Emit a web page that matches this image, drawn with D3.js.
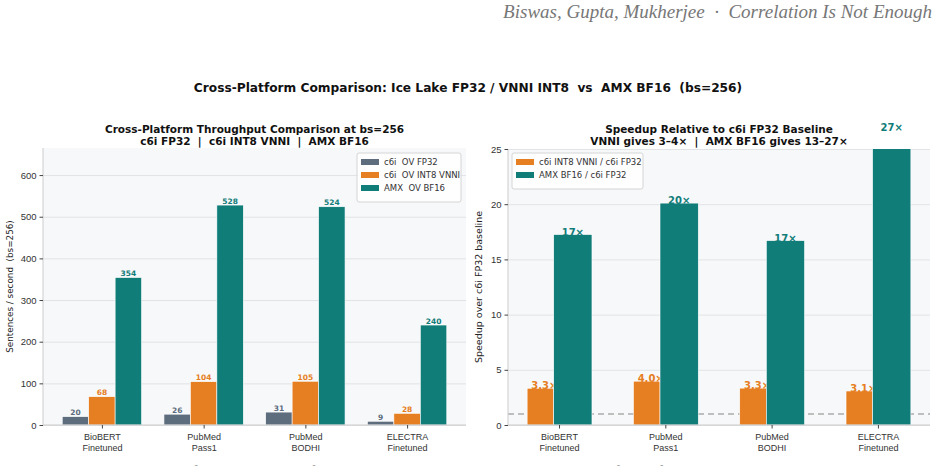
<!DOCTYPE html>
<html>
<head>
<meta charset="utf-8">
<script src="https://cdn.jsdelivr.net/npm/d3@7"></script>
<style>
  body { margin: 0; background: #fff; }
  svg { display: block; font-family: "DejaVu Sans", sans-serif; }
  text { white-space: pre; }
  .tick text { fill: #333; }
</style>
</head>
<body>
<svg id="chart" width="941" height="466"></svg>
<script>
const categories = ["BioBERT\nFinetuned", "PubMed\nPass1", "PubMed\nBODHI", "ELECTRA\nFinetuned"];

// throughput, sentences / second at bs=256
const c6iFp32 = [20, 26, 31, 9];
const c6iInt8 = [68, 104, 105, 28];
const amxBf16 = [354, 528, 524, 240];
const throughputTicks = [0, 100, 200, 300, 400, 500, 600];

// speedup over c6i FP32
const vnniSpeedup = [3.33, 3.97, 3.34, 3.08];
const amxSpeedup = [17.25, 20.1, 16.7, 26.7];
const speedupTicks = [0, 5, 10, 15, 20, 25];

const colors = { fp32: "#5d6d7e", int8: "#e67e22", bf16: "#117d79" };

const svg = d3.select("#chart");

svg.append("text")
  .attr("x", 932).attr("y", 18)
  .attr("text-anchor", "end")
  .style("font-family", "'Liberation Serif', serif")
  .style("font-style", "italic")
  .style("font-size", "19px")
  .attr("fill", "#777")
  .text("Biswas, Gupta, Mukherjee  ·  Correlation Is Not Enough");

svg.append("text")
  .attr("x", 468).attr("y", 92)
  .attr("text-anchor", "middle")
  .style("font-size", "12.2px").style("font-weight", "bold")
  .attr("fill", "#111")
  .text("Cross-Platform Comparison: Ice Lake FP32 / VNNI INT8  vs  AMX BF16  (bs=256)");

// caption, mostly below the fold
svg.append("text")
  .attr("x", 62).attr("y", 476)
  .style("font-family", "'Liberation Serif', serif")
  .style("font-style", "italic")
  .style("font-size", "15px")
  .attr("fill", "#777")
  .text("Figure 11: Cross-platform throughput (left) and speedup over the c6i FP32 baseline (right) for the four biomedical encoders at batch size 256.");

function panel(o) {
  const g = svg.append("g");
  const x = d3.scaleLinear().domain(o.xDomain).range([o.left, o.right]);
  const y = d3.scaleLinear().domain(o.yDomain).range([o.bottom, o.top]);

  g.append("rect")
    .attr("x", o.left).attr("y", o.top)
    .attr("width", o.right - o.left).attr("height", o.bottom - o.top)
    .attr("fill", "#f7f8fa");

  g.append("g")
    .attr("transform", `translate(${o.left},0)`)
    .call(d3.axisLeft(y).tickValues(o.ticks).tickSize(-(o.right - o.left)).tickFormat(""))
    .call(s => s.select(".domain").remove())
    .call(s => s.selectAll("line").attr("stroke", "#e1e3e6"));

  const clipId = "clip" + o.left;
  g.append("clipPath").attr("id", clipId)
    .append("rect")
    .attr("x", o.left).attr("y", o.top)
    .attr("width", o.right - o.left).attr("height", o.bottom - o.top);

  if (o.refLine != null) {
    g.append("line")
      .attr("x1", o.left).attr("x2", o.right)
      .attr("y1", y(o.refLine)).attr("y2", y(o.refLine))
      .attr("stroke", "#aaa").attr("stroke-width", 1.4)
      .attr("stroke-dasharray", "6,4");
  }

  o.series.forEach(s => {
    g.append("g").attr("clip-path", `url(#${clipId})`)
      .selectAll("rect")
      .data(s.values)
      .join("rect")
      .attr("x", (d, i) => x(i + s.from))
      .attr("width", (d, i) => x(i + s.to) - x(i + s.from))
      .attr("y", d => y(d))
      .attr("height", d => y(0) - y(d))
      .attr("fill", s.color)
      .attr("stroke", "#fff").attr("stroke-width", 0.6);

    g.append("g")
      .selectAll("text")
      .data(s.values)
      .join("text")
      .attr("x", (d, i) => x(i + (s.from + s.to) / 2) + (s.labelDx || 0))
      .attr("y", d => y(d) + o.labelDy)
      .attr("text-anchor", "middle")
      .style("font-size", o.labelSize + "px").style("font-weight", "bold")
      .attr("fill", s.color)
      .text(s.format);
  });

  const yAxis = g.append("g")
    .attr("transform", `translate(${o.left},0)`)
    .call(d3.axisLeft(y).tickValues(o.ticks).tickSize(3.5).tickPadding(3));
  yAxis.select(".domain").attr("stroke", "#ccc").attr("d", `M0,${o.bottom}V${o.top}`);
  yAxis.selectAll(".tick line").attr("stroke", "#444");
  yAxis.selectAll("text").style("font-size", "9.5px");

  const xAxis = g.append("g")
    .attr("transform", `translate(0,${o.bottom})`)
    .call(d3.axisBottom(x).tickValues(d3.range(categories.length)).tickSize(3.5).tickFormat(""));
  xAxis.select(".domain").attr("stroke", "#ccc").attr("d", `M${o.left},0H${o.right}`);
  xAxis.selectAll(".tick line").attr("stroke", "#444");
  xAxis.selectAll(".tick").append("text")
    .attr("text-anchor", "middle")
    .style("font-size", "9px").attr("fill", "#333")
    .selectAll("tspan")
    .data(i => categories[i].split("\n"))
    .join("tspan")
    .attr("x", 0)
    .attr("y", (d, j) => 15 + j * 10.5)
    .text(d => d);

  g.append("text")
    .attr("transform", `translate(${o.yLabelX},${(o.top + o.bottom) / 2}) rotate(-90)`)
    .attr("text-anchor", "middle")
    .style("font-size", o.yLabelSize + "px").attr("fill", "#222")
    .text(o.yLabel);

  o.title.forEach((t, i) => {
    g.append("text")
      .attr("x", (o.left + o.right) / 2).attr("y", 133 + i * 11.5)
      .attr("text-anchor", "middle")
      .style("font-size", "10.5px").style("font-weight", "bold")
      .attr("fill", "#111")
      .text(t);
  });

  const lg = g.append("g").attr("transform", `translate(${o.legend.x},${o.legend.y})`);
  lg.append("rect")
    .attr("width", o.legend.w).attr("height", 10 + o.series.length * 13)
    .attr("rx", 2)
    .attr("fill", "#fff").attr("fill-opacity", 0.85)
    .attr("stroke", "#ccc").attr("stroke-width", 0.8);
  o.series.forEach((s, i) => {
    lg.append("rect")
      .attr("x", 4).attr("y", 6 + i * 13)
      .attr("width", 18).attr("height", 6)
      .attr("fill", s.color);
    lg.append("text")
      .attr("x", 27).attr("y", 12 + i * 13)
      .style("font-size", "8.5px").attr("fill", "#333")
      .text(s.name);
  });
}

panel({
  left: 43, right: 466, top: 148, bottom: 425,
  xDomain: [-0.579, 3.579], yDomain: [0, 665], ticks: throughputTicks,
  yLabel: "Sentences / second  (bs=256)", yLabelX: 13, yLabelSize: 8.8,
  title: ["Cross-Platform Throughput Comparison at bs=256", "c6i FP32  |  c6i INT8 VNNI  |  AMX BF16"],
  labelSize: 7.5, labelDy: -1.5,
  legend: { x: 357, y: 153, w: 104 },
  series: [
    { name: "c6i  OV FP32", values: c6iFp32, color: colors.fp32, from: -0.39, to: -0.13, format: d => d3.format(".0f")(d) },
    { name: "c6i  OV INT8 VNNI", values: c6iInt8, color: colors.int8, from: -0.13, to: 0.13, format: d => d3.format(".0f")(d) },
    { name: "AMX  OV BF16", values: amxBf16, color: colors.bf16, from: 0.13, to: 0.39, format: d => d3.format(".0f")(d) }
  ]
});

panel({
  left: 508, right: 930, top: 149, bottom: 425,
  xDomain: [-0.48, 3.49], yDomain: [0, 25], ticks: speedupTicks,
  yLabel: "Speedup over c6i FP32 baseline", yLabelX: 482, yLabelSize: 9.5,
  title: ["Speedup Relative to c6i FP32 Baseline", "VNNI gives 3–4×  |  AMX BF16 gives 13–27×"],
  labelSize: 10, labelDy: 1, refLine: 1,
  legend: { x: 512, y: 153, w: 131 },
  series: [
    { name: "c6i INT8 VNNI / c6i FP32", values: vnniSpeedup, color: colors.int8, from: -0.30, to: -0.05, labelDx: 4, format: d => d3.format(".1f")(d) + "×" },
    { name: "AMX BF16 / c6i FP32", values: amxSpeedup, color: colors.bf16, from: -0.05, to: 0.31, format: d => d3.format(".0f")(d) + "×" }
  ]
});
</script>
</body>
</html>
